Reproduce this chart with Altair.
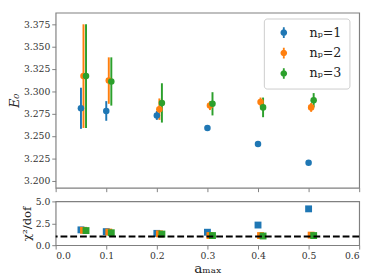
import altair as alt
import pandas as pd

# ---- data ----
a_max = [0.05, 0.1, 0.2, 0.3, 0.4, 0.5]
series = ["nₚ=1", "nₚ=2", "nₚ=3"]
x_shift = [0.0, 0.005, 0.01]
colors = ["#1f77b4", "#ff7f0e", "#2ca02c"]

E0_np1 = [3.281, 3.278, 3.273, 3.259, 3.241, 3.220]
E0_np2 = [3.317, 3.312, 3.280, 3.284, 3.288, 3.282]
E0_np3 = [3.317, 3.311, 3.287, 3.286, 3.282, 3.290]
err_np1 = [0.023, 0.011, 0.005, 0.003, 0.003, 0.002]
err_np2 = [0.058, 0.026, 0.012, 0.005, 0.005, 0.005]
err_np3 = [0.058, 0.027, 0.022, 0.013, 0.011, 0.008]
chi2_np1 = [1.75, 1.55, 1.35, 1.48, 2.30, 4.15]
chi2_np2 = [1.70, 1.50, 1.30, 1.10, 1.10, 1.15]
chi2_np3 = [1.67, 1.42, 1.27, 1.10, 1.05, 1.10]

y_ticks_top = [3.200, 3.225, 3.250, 3.275, 3.300, 3.325, 3.350, 3.375]
y_ticks_bot = [0.0, 2.5, 5.0]
x_ticks = [0.0, 0.1, 0.2, 0.3, 0.4, 0.5, 0.6]

rows = []
for s, sh, E, er, c2 in zip(series, x_shift,
                            [E0_np1, E0_np2, E0_np3],
                            [err_np1, err_np2, err_np3],
                            [chi2_np1, chi2_np2, chi2_np3]):
    for a, e, d, c in zip(a_max, E, er, c2):
        rows.append({"a": a + sh, "E": e, "lo": e - d, "hi": e + d,
                     "chi2": c, "s": s})
df = pd.DataFrame(rows)

FONT = "DejaVu Serif"
GRAY = "#808080"

color_scale = alt.Scale(domain=series, range=colors)
xscale = alt.Scale(domain=[0, 0.6], nice=False, zero=False)
yscale_top = alt.Scale(domain=[3.192, 3.388], nice=False, zero=False)

legend_path = ("M-0.17,-1H0.17V1H-0.17Z "
               "M0,-0.62A0.62,0.62 0 1,1 0,0.62A0.62,0.62 0 1,1 0,-0.62Z")

legend = alt.Legend(title=None, orient="none", legendX=214, legendY=6,
                    padding=8,
                    symbolType=legend_path, symbolSize=121,
                    symbolStrokeWidth=0, symbolOffset=6,
                    labelOffset=20, rowPadding=7,
                    labelFont=FONT, labelFontSize=13,
                    labelColor="#222",
                    fillColor="rgba(255,255,255,0.8)",
                    strokeColor="#cccccc", cornerRadius=3)
color_top = alt.Color("s:N", scale=color_scale, legend=legend)

x_top = alt.X("a:Q", scale=xscale,
              axis=alt.Axis(values=x_ticks, labels=False, title=None))
y_axis_top = alt.Axis(values=y_ticks_top, format=".3f", title="E₀",
                      titleFontStyle="italic", titleFontSize=13,
                      labelOverlap=False)

base_top = alt.Chart(df)
bars = base_top.mark_rule(strokeWidth=2).encode(
    x=x_top,
    y=alt.Y("lo:Q", scale=yscale_top, axis=y_axis_top),
    y2="hi:Q",
    color=color_top,
)
pts = base_top.mark_circle(size=45, opacity=1).encode(
    x=x_top,
    y=alt.Y("E:Q", scale=yscale_top, axis=y_axis_top),
    color=color_top,
)
top = alt.layer(bars, pts).properties(width=312, height=180)

y_axis_bot = alt.Axis(values=y_ticks_bot, format=".1f", title="χ²/dof",
                      titleFontSize=12)
x_bot = alt.X("a:Q", scale=xscale,
              axis=alt.Axis(values=x_ticks, format=".1f", title="aₘₐₓ",
                            titleFontSize=14))
yscale_bot = alt.Scale(domain=[0, 5], nice=False)
sq = alt.Chart(df).mark_square(size=50, opacity=1).encode(
    x=x_bot,
    y=alt.Y("chi2:Q", scale=yscale_bot, axis=y_axis_bot),
    color=alt.Color("s:N", scale=color_scale, legend=None),
)
dash = alt.Chart(pd.DataFrame({"v": [1.0]})).mark_rule(
    color="black", strokeWidth=2, strokeDash=[7, 3]).encode(
    y=alt.Y("v:Q", scale=yscale_bot, axis=y_axis_bot))
bot = alt.layer(sq, dash).properties(width=312, height=45)

chart = alt.vconcat(top, bot, spacing=2).resolve_legend(
    color="independent"
).properties(
    padding={"left": 0, "top": 0, "right": 5, "bottom": 0}
).configure(
    font=FONT
).configure_view(
    stroke=GRAY, strokeWidth=1.2
).configure_axis(
    grid=False, domain=False, tickColor=GRAY, tickSize=4,
    labelFont=FONT, labelFontSize=9.5, labelColor="#333",
    titleFont=FONT, titleColor="#222", titleFontWeight="normal",
    labelPadding=2, titlePadding=2,
)

chart.save("out.html", embed_options={"renderer": "svg", "actions": False})
